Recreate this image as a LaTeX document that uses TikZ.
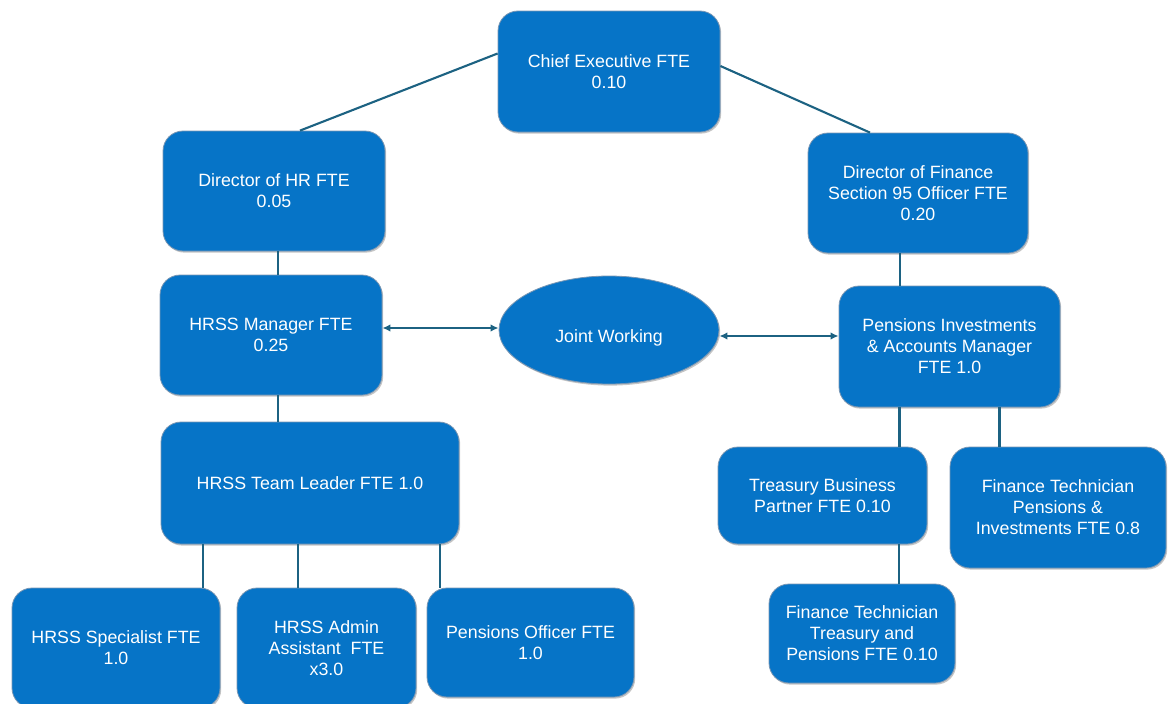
\documentclass[tikz,border=0pt]{standalone}
\usepackage{fontspec}
\setmainfont{Liberation Sans}
\usetikzlibrary{shapes.geometric,arrows.meta,shadows}
\definecolor{boxblue}{RGB}{6,116,199}
\definecolor{boxedge}{RGB}{120,150,180}
\definecolor{linkcol}{RGB}{28,98,130}
\tikzset{
  orgbox/.style={rectangle, rounded corners=20pt, fill=boxblue, draw=boxedge, line width=0.8pt,
    text=white, align=center, inner sep=0pt,
    font=\fontsize{17.8}{21}\selectfont,
    drop shadow={opacity=0.45, shadow xshift=1.2pt, shadow yshift=-1.6pt}},
  orgoval/.style={ellipse, fill=boxblue, draw=boxedge, line width=0.8pt,
    text=white, align=center, inner sep=0pt,
    font=\fontsize{17.8}{21}\selectfont,
    drop shadow={opacity=0.45, shadow xshift=1.2pt, shadow yshift=-1.6pt}},
  link/.style={draw=linkcol, line width=2.1pt},
  dlink/.style={link, {Latex[length=8pt,width=7.5pt]}-{Latex[length=8pt,width=7.5pt]}}
}
\begin{document}
\begin{tikzpicture}[x=1pt,y=-1pt]
\useasboundingbox (0,0) rectangle (1168,704);
\fill[white] (0,0) rectangle (1168,704);

\node[orgbox, minimum width=222pt, minimum height=121pt] (ce) at (609,71.5) {Chief Executive FTE\\0.10};
\node[orgbox, minimum width=222pt, minimum height=120pt] (dhr) at (274,191) {Director of HR FTE\\0.05};
\node[orgbox, minimum width=220pt, minimum height=120pt] (dfin) at (918,193) {Director of Finance\\Section 95 Officer FTE\\0.20};
\node[orgbox, minimum width=222pt, minimum height=120pt] (mgr) at (271,335) {HRSS Manager FTE\\0.25};
\node[orgoval, minimum width=220pt, minimum height=108pt] (joint) at (609,330) {\raisebox{-12pt}[0pt][0pt]{Joint Working}};
\node[orgbox, minimum width=221pt, minimum height=121pt] (pim) at (949.5,346.5) {Pensions Investments\\\&~Accounts Manager\\FTE 1.0};
\node[orgbox, minimum width=298pt, minimum height=122pt] (tl) at (310,483) {HRSS Team Leader FTE 1.0};
\node[orgbox, minimum width=208pt, minimum height=120pt] (spec) at (116,648) {HRSS Specialist FTE\\1.0};
\node[orgbox, minimum width=179pt, minimum height=120pt] (admin) at (326.5,648) {HRSS Admin\\Assistant~ FTE\\x3.0};
\node[orgbox, minimum width=207pt, minimum height=109pt] (po) at (530.5,642.5) {Pensions Officer FTE\\1.0};
\node[orgbox, minimum width=209pt, minimum height=97pt] (tbp) at (822.5,495.5) {Treasury Business\\Partner FTE 0.10};
\node[orgbox, minimum width=216pt, minimum height=121pt] (ftp) at (1058,507.5) {Finance Technician\\Pensions \&\\Investments FTE 0.8};
\node[orgbox, minimum width=186pt, minimum height=99pt] (ftt) at (862,633.5) {Finance Technician\\Treasury and\\Pensions FTE 0.10};

% connectors
\draw[link] ([yshift=18pt]ce.west) -- ([xshift=26pt]dhr.north);
\draw[link] ([yshift=5.5pt]ce.east) -- ([xshift=-48pt]dfin.north);
\draw[link] ([xshift=4pt]dhr.south) -- ([xshift=4pt]dhr.south |- mgr.north);
\draw[link] ([xshift=7pt]mgr.south) -- ([xshift=7pt]mgr.south |- tl.north);
\draw[dlink] ([yshift=7pt]mgr.east) -- ([yshift=7pt]mgr.east -| joint.west);
\draw[dlink] ([yshift=-6pt]joint.east) -- ([yshift=-6pt]joint.east -| pim.west);
\draw[link] ([xshift=-18pt]dfin.south) -- ([xshift=-18pt]dfin.south |- pim.north);
\draw[link] ([xshift=-50pt]pim.south) -- ([xshift=-50pt]pim.south |- tbp.north);
\draw[link] ([xshift=50pt]pim.south) -- ([xshift=50pt]pim.south |- ftp.north);
\draw[link] ([xshift=76.5pt]tbp.south) -- ([xshift=76.5pt]tbp.south |- ftt.north);
\draw[link] ([xshift=-107pt]tl.south) -- ([xshift=-107pt]tl.south |- spec.north);
\draw[link] ([xshift=-12pt]tl.south) -- ([xshift=-12pt]tl.south |- admin.north);
\draw[link] ([xshift=130pt]tl.south) -- ([xshift=130pt]tl.south |- po.north);
\end{tikzpicture}
\end{document}
